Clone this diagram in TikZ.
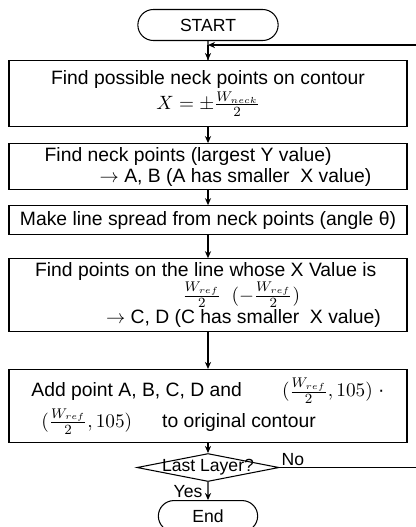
\documentclass[tikz,border=0pt]{standalone}
\usepackage{fontspec}
\setmainfont{Liberation Sans}
\usepackage{amsmath}
\usetikzlibrary{positioning,calc,shapes.geometric,shapes.misc,arrows.meta}

\tikzset{
  blocco/.style={draw, line width=0.6pt, minimum width=7.96cm, inner xsep=2pt, inner ysep=0pt,
    font=\fontsize{11}{12}\selectfont},
  terminale/.style={draw, rounded rectangle, line width=0.6pt, minimum height=0.62cm},
  freccia/.style={-{Stealth[length=4pt,width=3.5pt]}, line width=0.6pt},
}

\begin{document}
\begin{tikzpicture}
  \useasboundingbox (0,0) rectangle (8.3,-10.54);
  % Blocchi principali
  \node [terminale, minimum width=3.04cm] (start) at (4.16,-0.50) {START};
  \node [blocco, minimum height=1.32cm, below=0.38cm of start, align=center] (possibili)
    {Find possible neck points on contour\\[1pt] $X=\pm\frac{W_{neck}}{2}$};
  \node [blocco, minimum height=0.92cm, below=0.32cm of possibili, align=left] (collo)
    {Find neck points (largest Y value)\\ \hspace*{1.1cm}$\rightarrow$ A, B (A has smaller\ \ X value)};
  \node [blocco, minimum height=0.58cm, below=0.3cm of collo] (linea)
    {Make line spread from neck points (angle θ)};
  \node [blocco, inner ysep=2pt, minimum height=1.3cm, below=0.46cm of linea, align=left] (punti)
    {Find points on the line whose X Value is\\
     \hspace*{2.95cm}$\frac{W_{ref}}{2}$ \ $(-\frac{W_{ref}}{2})$\\[1pt]
     \hspace*{1.42cm}$\rightarrow$ C, D (C has smaller\ \ X value)};
  \node [blocco, minimum height=1.46cm, below=0.74cm of punti, align=left] (aggiungi)
    {Add point A, B, C, D and\hspace{0.8cm}$(\frac{W_{ref}}{2},105)$ ·\\[2pt]
     \hspace*{0.2cm}$(\frac{W_{ref}}{2},105)$\hspace{0.6cm}to original contour};
  \node [draw, diamond, aspect=5.3, line width=0.6pt, inner sep=0pt,
    minimum width=2.84cm, minimum height=0.56cm,
    label=center:{Last Layer?}, below=0.2cm of aggiungi] (ultimo) {};
  \node [terminale, minimum width=2.22cm, below=0.36cm of ultimo] (fine) {End};

  % Etichette
  \node [anchor=south west, inner sep=1pt] (no) at (ultimo.east) {No};
  \node [anchor=east, inner sep=1pt, xshift=-2pt] (yes) at ($(ultimo.south)!0.5!(fine.north)$) {Yes};

  % Collegamenti
  \coordinate [below=0.08cm of start] (ritorno);
  \coordinate (destra) at (8.36,0 |- ultimo.east);
  \draw [line width=0.6pt] (start) -- (possibili);
  \draw [freccia] (ritorno) -- (possibili);
  \draw [freccia] (possibili) -- (collo);
  \draw [freccia] (collo) -- (linea);
  \draw [freccia] (linea) -- (punti);
  \draw [freccia] (punti) -- (aggiungi);
  \draw [freccia] (aggiungi) -- (ultimo);
  \draw [freccia] (ultimo) -- (fine);
  \draw [freccia] (ultimo.east) -- (destra) |- (ritorno);
\end{tikzpicture}
\end{document}
